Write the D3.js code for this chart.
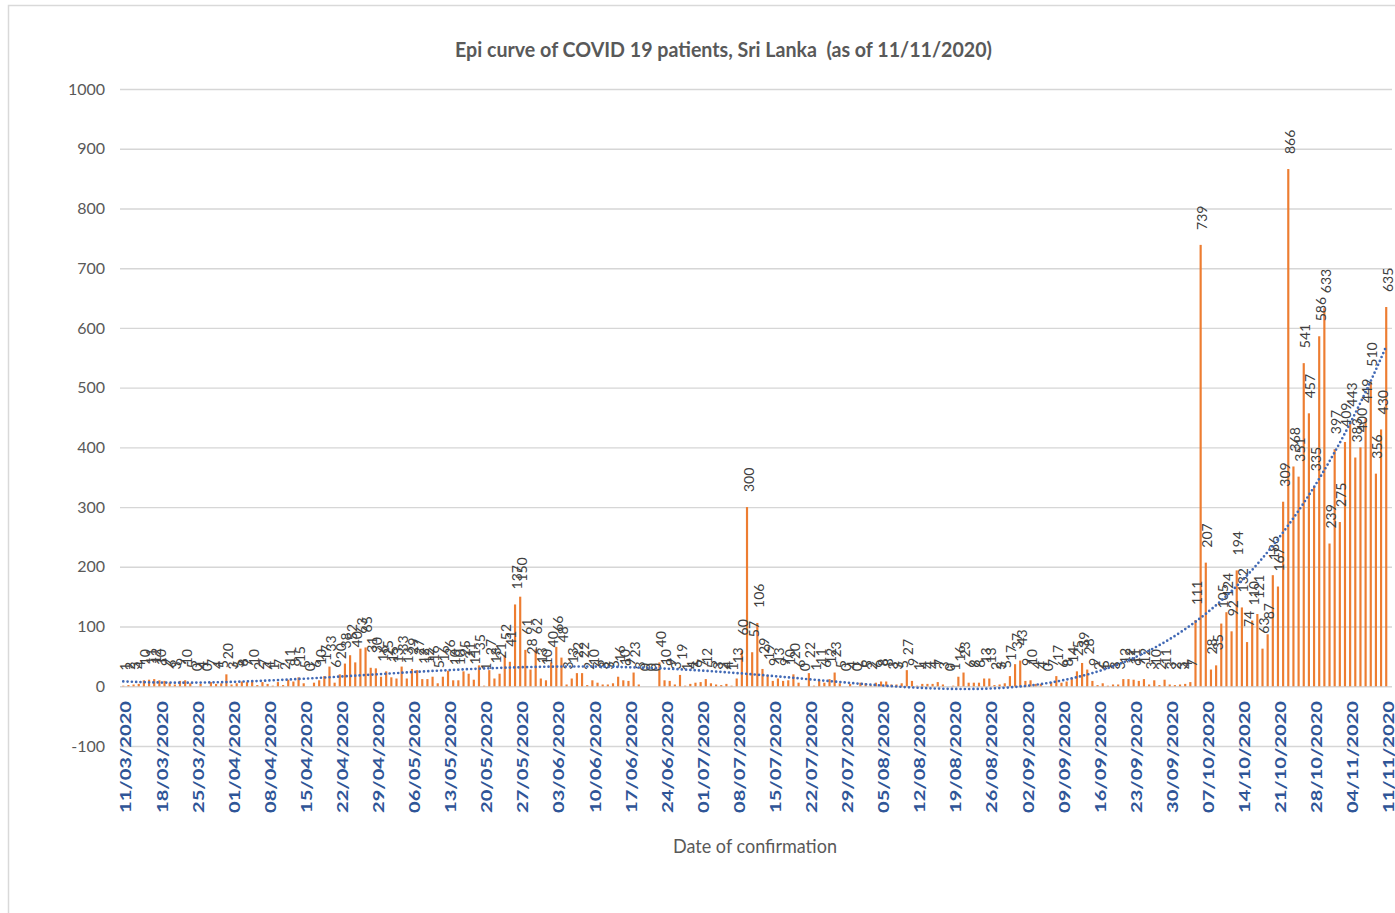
<!DOCTYPE html>
<html>
<head>
<meta charset="utf-8">
<script src="https://cdn.jsdelivr.net/npm/d3@7"></script>
<style>
  body { margin: 0; background: #fff; }
  svg { display: block; }
</style>
</head>
<body>
<svg id="chart" width="1395" height="913"></svg>
<script>
// Daily confirmed COVID-19 cases, Sri Lanka, 11 Mar 2020 – 11 Nov 2020
const firstDay = "2020-03-11";
const lastDay = "2020-11-11";

const dailyCases = [
  1, 2, 3, 4, 10, 11, 12, 10, 9, 6,
  3, 9, 10, 5, 0, 4, 0, 7, 4, 5,
  20, 3, 5, 8, 7, 10, 2, 7, 4, 1,
  7, 2, 11, 8, 15, 5, 0, 6, 10, 17,
  33, 6, 20, 38, 52, 40, 63, 65, 31, 30,
  16, 25, 15, 13, 33, 13, 29, 27, 12, 12,
  16, 5, 16, 26, 10, 10, 25, 21, 11, 35,
  1, 27, 13, 21, 52, 41, 137, 150, 61, 28,
  62, 13, 10, 40, 66, 48, 3, 13, 22, 22,
  2, 10, 6, 3, 3, 5, 16, 10, 9, 23,
  3, 0, 0, 0, 40, 10, 9, 3, 19, 1,
  4, 6, 7, 12, 5, 3, 2, 4, 1, 13,
  60, 300, 57, 106, 29, 19, 9, 13, 9, 10,
  20, 6, 0, 22, 1, 11, 6, 12, 23, 5,
  0, 4, 0, 6, 5, 2, 6, 8, 8, 3,
  3, 5, 27, 9, 1, 4, 4, 4, 7, 3,
  0, 1, 16, 23, 6, 6, 6, 13, 13, 2,
  3, 5, 17, 37, 43, 9, 10, 4, 4, 0,
  7, 17, 6, 8, 14, 25, 39, 28, 9, 2,
  5, 1, 3, 3, 12, 12, 11, 9, 12, 3,
  10, 2, 11, 3, 2, 3, 4, 7, 111, 739,
  207, 28, 35, 105, 124, 92, 194, 132, 74, 110,
  121, 63, 87, 186, 167, 309, 866, 368, 351, 541,
  457, 335, 586, 633, 239, 397, 275, 409, 443, 383,
  400, 449, 510, 356, 430, 635
];

const yTicks = [1000, 900, 800, 700, 600, 500, 400, 300, 200, 100, 0, -100];

const dateTickLabels = [
  "11/03/2020", "18/03/2020", "25/03/2020", "01/04/2020", "08/04/2020",
  "15/04/2020", "22/04/2020", "29/04/2020", "06/05/2020", "13/05/2020",
  "20/05/2020", "27/05/2020", "03/06/2020", "10/06/2020", "17/06/2020",
  "24/06/2020", "01/07/2020", "08/07/2020", "15/07/2020", "22/07/2020",
  "29/07/2020", "05/08/2020", "12/08/2020", "19/08/2020", "26/08/2020",
  "02/09/2020", "09/09/2020", "16/09/2020", "23/09/2020", "30/09/2020",
  "07/10/2020", "14/10/2020", "21/10/2020", "28/10/2020", "04/11/2020",
  "11/11/2020"
];

const chartTitle = "Epi curve of COVID 19 patients, Sri Lanka  (as of 11/11/2020)";
const xAxisTitle = "Date of confirmation";
const trendOrder = 5;

// ---- dates for each bar ----
const parseDay = d3.timeParse("%Y-%m-%d");
const fmtDay = d3.timeFormat("%d/%m/%Y");
const days = d3.timeDay.range(parseDay(firstDay), d3.timeDay.offset(parseDay(lastDay), 1));
const records = days.map((d, i) => ({ date: d, label: fmtDay(d), value: dailyCases[i] }));
const indexOfLabel = new Map(records.map((r, i) => [r.label, i]));

const svg = d3.select("#chart");

// outer frame of the chart area
svg.append("rect")
  .attr("x", 8.5).attr("y", 5.5)
  .attr("width", 1400).attr("height", 1000)
  .attr("fill", "none").attr("stroke", "#d9d9d9").attr("stroke-width", 1.5);

// ---- scales ----
const x = d3.scaleBand()
  .domain(d3.range(records.length))
  .range([120.7, 1388.8])
  .paddingInner(0.58)
  .paddingOuter(0.29);
const cx = i => x(i) + x.bandwidth() / 2;

const y = d3.scaleLinear().domain([-100, 1000]).range([746, 89]);

// ---- gridlines and y labels ----
const yAxis = d3.axisLeft(y)
  .tickValues(yTicks)
  .tickSize(-(1392 - 120))
  .tickPadding(15)
  .tickFormat(d => String(d));

const gy = svg.append("g")
  .attr("transform", "translate(120,0)")
  .call(yAxis);
gy.select(".domain").remove();
gy.selectAll(".tick line")
  .attr("stroke", "#d6d6d6").attr("stroke-width", 1.4);
gy.selectAll(".tick text")
  .attr("fill", "#595959")
  .attr("font-family", "Lato, 'Open Sans', sans-serif")
  .attr("font-size", 16);

// ---- bars ----
svg.append("g")
  .selectAll("rect")
  .data(records)
  .join("rect")
  .attr("x", (d, i) => x(i))
  .attr("width", x.bandwidth())
  .attr("y", d => y(Math.max(0, d.value)))
  .attr("height", d => Math.abs(y(d.value) - y(0)))
  .attr("fill", "#ED7D31");

// ---- value labels above bars ----
svg.append("g")
  .selectAll("text")
  .data(records)
  .join("text")
  .attr("transform", (d, i) => `translate(${cx(i) + 1},${y(d.value) - 15}) rotate(-90)`)
  .attr("text-anchor", "start")
  .attr("dominant-baseline", "central")
  .attr("font-family", "Lato, 'Open Sans', sans-serif")
  .attr("font-size", 14)
  .attr("fill", "#404040")
  .text(d => d.value);

// ---- polynomial trend line (least squares) fitted to the daily counts ----
function polyFit(xs, ys, order) {
  const m = order + 1;
  const A = Array.from({ length: m }, () => new Array(m + 1).fill(0));
  for (let k = 0; k < xs.length; k++) {
    const pw = [1];
    for (let j = 1; j < 2 * m; j++) pw.push(pw[j - 1] * xs[k]);
    for (let r = 0; r < m; r++) {
      for (let c = 0; c < m; c++) A[r][c] += pw[r + c];
      A[r][m] += pw[r] * ys[k];
    }
  }
  for (let col = 0; col < m; col++) {
    let piv = col;
    for (let r = col + 1; r < m; r++) if (Math.abs(A[r][col]) > Math.abs(A[piv][col])) piv = r;
    [A[col], A[piv]] = [A[piv], A[col]];
    for (let r = 0; r < m; r++) {
      if (r === col) continue;
      const f = A[r][col] / A[col][col];
      for (let c = col; c <= m; c++) A[r][c] -= f * A[col][c];
    }
  }
  return A.map((row, r) => row[m] / row[r]);
}
const half = (records.length - 1) / 2;
const norm = i => (i - half) / half;
const coef = polyFit(records.map((d, i) => norm(i)), records.map(d => d.value), trendOrder);
const trendAt = t => coef.reduce((s, c, k) => s + c * Math.pow(t, k), 0);

const trendPts = d3.range(0, records.length - 1 + 0.001, 0.25).map(i => [i, trendAt(norm(i))]);
const trendLine = d3.line()
  .x(p => cx(0) + p[0] * x.step())
  .y(p => y(p[1]));

svg.append("path")
  .datum(trendPts)
  .attr("d", trendLine)
  .attr("fill", "none")
  .attr("stroke", "#4169b5")
  .attr("stroke-width", 2.7)
  .attr("stroke-linecap", "round")
  .attr("stroke-dasharray", "0 4.3");

// ---- date tick labels ----
svg.append("g")
  .selectAll("text")
  .data(dateTickLabels)
  .join("text")
  .attr("transform", d => `translate(${cx(indexOfLabel.get(d)) + 1.7},701) rotate(-90)`)
  .attr("text-anchor", "end")
  .attr("dominant-baseline", "central")
  .attr("font-family", "Lato, 'Open Sans', sans-serif")
  .attr("font-weight", 700)
  .attr("font-size", 16)
  .attr("fill", "#2f5597")
  .attr("textLength", 112)
  .attr("lengthAdjust", "spacingAndGlyphs")
  .text(d => d);

// ---- titles ----
svg.append("text")
  .attr("x", 723.5).attr("y", 57)
  .attr("text-anchor", "middle")
  .attr("font-family", "Lato, 'Open Sans', sans-serif")
  .attr("font-weight", 700)
  .attr("font-size", 21)
  .attr("fill", "#595959")
  .attr("textLength", 537)
  .attr("lengthAdjust", "spacingAndGlyphs")
  .style("white-space", "pre")
  .text(chartTitle);

svg.append("text")
  .attr("x", 755).attr("y", 853)
  .attr("text-anchor", "middle")
  .attr("font-family", "Lato, 'Open Sans', sans-serif")
  .attr("font-size", 20)
  .attr("fill", "#595959")
  .attr("textLength", 164)
  .attr("lengthAdjust", "spacingAndGlyphs")
  .text(xAxisTitle);
</script>
</body>
</html>
